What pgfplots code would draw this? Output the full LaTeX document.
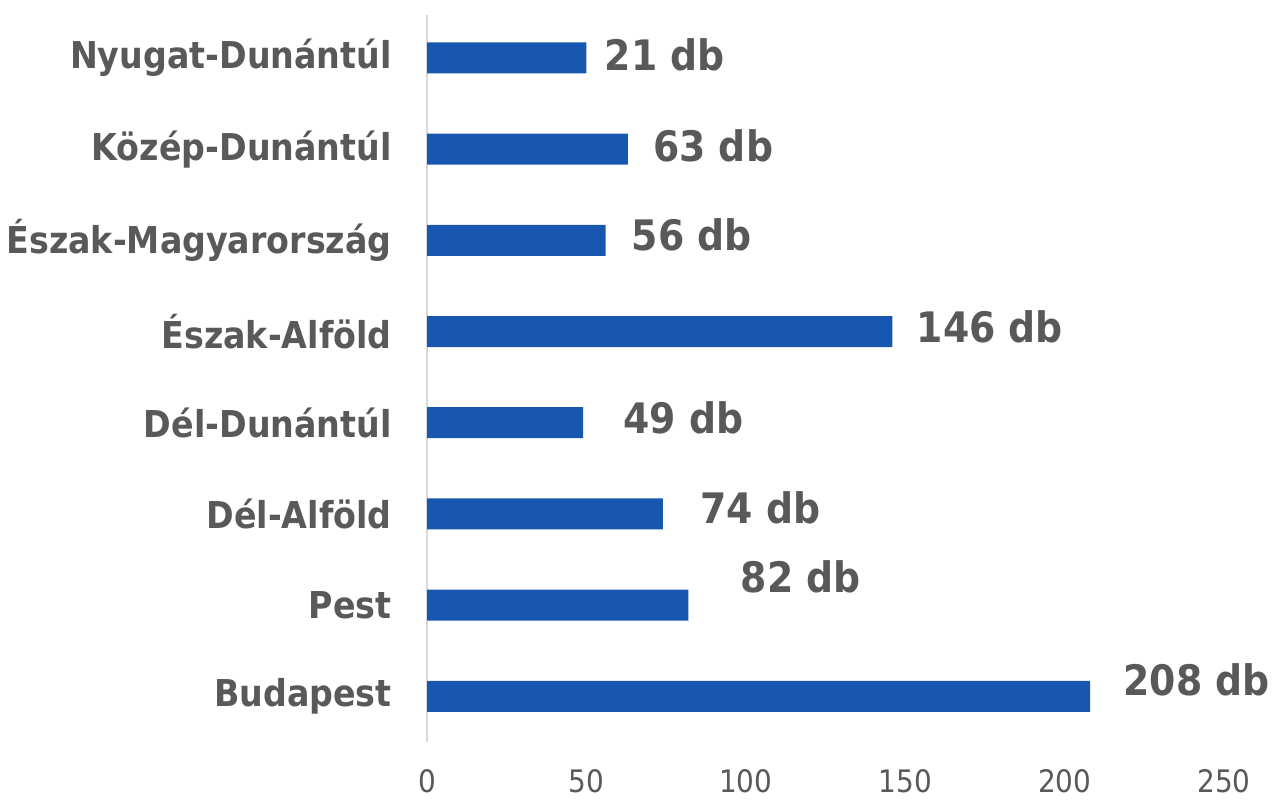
\documentclass[border=0pt]{standalone}
\usepackage{pgfplots}
\pgfplotsset{compat=1.18}
\usepackage{pgfplotstable}
\usepackage{fontspec}
\setmainfont{DejaVu Sans Condensed}
\definecolor{barBlue}{RGB}{24,87,176}
\definecolor{txtGray}{RGB}{89,89,89}
\definecolor{lineGray}{RGB}{217,217,217}
\pgfplotstableread{
y val lab dx dy
0 208 208 16.5 8.5
1 82 82 26 14
2 74 74 18.5 3
3 49 49 20 2.5
4 146 146 12 2.5
5 56 56 13 2.5
6 63 63 12.5 1.5
7 50 21 9 1.5
}\datatable
\begin{document}
\begin{tikzpicture}
\begin{axis}[
  at={(213.5pt,28.5pt)}, anchor=south west,
  scale only axis, width=398.5pt, height=363.5pt,
  xbar, bar width=15.5pt,
  xmin=0, xmax=250, ymin=-0.5, ymax=7.47,
  xtick={0,50,100,150,200,250},
  ytick={0,...,7},
  yticklabels={Budapest,Pest,Dél-Alföld,Dél-Dunántúl,Észak-Alföld,Észak-Magyarország,Közép-Dunántúl,Nyugat-Dunántúl},
  axis lines*=left,
  x axis line style={draw=none},
  y axis line style={draw=lineGray, line width=0.75pt, -},
  major tick length=0pt, tick style={draw=none},
  /pgf/number format/assume math mode=true,
  xticklabel style={font=\fontsize{15.5}{16}\selectfont, text=txtGray, anchor=center, inner sep=0pt, yshift=-19.5pt},
  yticklabel style={font=\bfseries\fontsize{18.5}{20}\selectfont, text=txtGray, anchor=east, inner sep=0pt, xshift=-17.5pt},
  clip=false,
  point meta=explicit symbolic,
  visualization depends on={\thisrow{dx} \as \lblx},
  visualization depends on={\thisrow{dy} \as \lbly},
  nodes near coords={\pgfplotspointmeta{} db},
  every node near coord/.append style={font=\bfseries\fontsize{21}{22}\selectfont, text=txtGray, anchor=west, inner sep=0pt, xshift=\lblx pt, yshift=\lbly pt},
]
\addplot[draw=none, fill=barBlue] table[x=val, y=y, meta=lab] {\datatable};
\end{axis}
\pgfresetboundingbox
\path[use as bounding box] (0,0) rectangle (636pt,399.5pt);
\end{tikzpicture}
\end{document}
